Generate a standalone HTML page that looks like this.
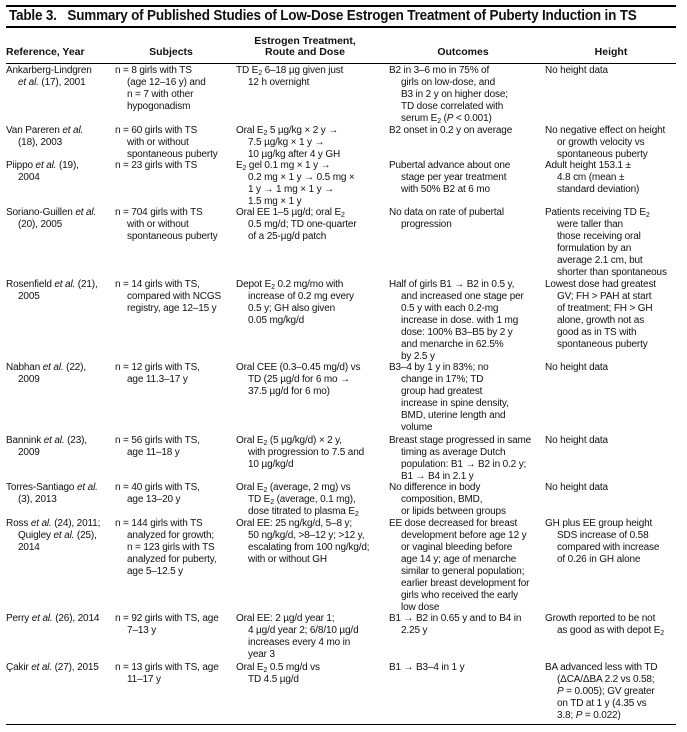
<!DOCTYPE html>
<html><head><meta charset="utf-8"><style>
body{margin:0;width:687px;height:732px;background:#fff;position:relative;overflow:hidden;font-family:"Liberation Sans",sans-serif;color:#111}
.r{position:absolute;left:6px;width:670px;background:#000}
.c{position:absolute;font-size:10px;line-height:12px;white-space:nowrap;padding-left:12px;text-indent:-12px;letter-spacing:-0.15px}
.h{position:absolute;font-size:10.5px;font-weight:bold;line-height:11px;text-align:center;white-space:nowrap}
sub{font-size:7px;vertical-align:-2px;line-height:0}
i{font-style:italic}
</style></head><body>
<div class="r" style="top:5px;height:2px"></div>
<div style="position:absolute;left:9px;top:7px;font-size:14.5px;font-weight:bold;line-height:18px;white-space:nowrap;letter-spacing:-0.2px;transform:scaleX(0.93);transform-origin:0 0">Table 3.&nbsp;&nbsp; Summary of Published Studies of Low-Dose Estrogen Treatment of Puberty Induction in TS</div>
<div class="r" style="top:26px;height:2px"></div>
<div class="h" style="left:6px;top:47px;text-align:left">Reference, Year</div>
<div class="h" style="left:121px;width:100px;top:47px">Subjects</div>
<div class="h" style="left:245px;width:120px;top:36px">Estrogen Treatment,<br>Route and Dose</div>
<div class="h" style="left:413px;width:100px;top:47px">Outcomes</div>
<div class="h" style="left:561px;width:100px;top:47px">Height</div>
<div class="r" style="top:63px;height:1px"></div>

<div class="c" style="left:6px;top:65px">Ankarberg-Lindgren<br><i>et al.</i> (17), 2001</div>
<div class="c" style="left:115px;top:65px">n = 8 girls with TS<br>(age 12–16 y) and<br>n = 7 with other<br>hypogonadism</div>
<div class="c" style="left:236px;top:65px">TD E<sub>2</sub> 6–18 µg given just<br>12 h overnight</div>
<div class="c" style="left:389px;top:65px">B2 in 3–6 mo in 75% of<br>girls on low-dose, and<br>B3 in 2 y on higher dose;<br>TD dose correlated with<br>serum E<sub>2</sub> (<i>P</i> &lt; 0.001)</div>
<div class="c" style="left:545px;top:65px">No height data</div>

<div class="c" style="left:6px;top:125px">Van Pareren <i>et al.</i><br>(18), 2003</div>
<div class="c" style="left:115px;top:125px">n = 60 girls with TS<br>with or without<br>spontaneous puberty</div>
<div class="c" style="left:236px;top:125px">Oral E<sub>2</sub> 5 µg/kg × 2 y →<br>7.5 µg/kg × 1 y →<br>10 µg/kg after 4 y GH</div>
<div class="c" style="left:389px;top:125px">B2 onset in 0.2 y on average</div>
<div class="c" style="left:545px;top:125px">No negative effect on height<br>or growth velocity vs<br>spontaneous puberty</div>

<div class="c" style="left:6px;top:160px">Piippo <i>et al.</i> (19),<br>2004</div>
<div class="c" style="left:115px;top:160px">n = 23 girls with TS</div>
<div class="c" style="left:236px;top:160px">E<sub>2</sub> gel 0.1 mg × 1 y →<br>0.2 mg × 1 y → 0.5 mg ×<br>1 y → 1 mg × 1 y →<br>1.5 mg × 1 y</div>
<div class="c" style="left:389px;top:160px">Pubertal advance about one<br>stage per year treatment<br>with 50% B2 at 6 mo</div>
<div class="c" style="left:545px;top:160px">Adult height 153.1 ±<br>4.8 cm (mean ±<br>standard deviation)</div>

<div class="c" style="left:6px;top:207px">Soriano-Guillen <i>et al.</i><br>(20), 2005</div>
<div class="c" style="left:115px;top:207px">n = 704 girls with TS<br>with or without<br>spontaneous puberty</div>
<div class="c" style="left:236px;top:207px">Oral EE 1–5 µg/d; oral E<sub>2</sub><br>0.5 mg/d; TD one-quarter<br>of a 25-µg/d patch</div>
<div class="c" style="left:389px;top:207px">No data on rate of pubertal<br>progression</div>
<div class="c" style="left:545px;top:207px">Patients receiving TD E<sub>2</sub><br>were taller than<br>those receiving oral<br>formulation by an<br>average 2.1 cm, but<br>shorter than spontaneous</div>

<div class="c" style="left:6px;top:279px">Rosenfield <i>et al.</i> (21),<br>2005</div>
<div class="c" style="left:115px;top:279px">n = 14 girls with TS,<br>compared with NCGS<br>registry, age 12–15 y</div>
<div class="c" style="left:236px;top:279px">Depot E<sub>2</sub> 0.2 mg/mo with<br>increase of 0.2 mg every<br>0.5 y; GH also given<br>0.05 mg/kg/d</div>
<div class="c" style="left:389px;top:279px">Half of girls B1 → B2 in 0.5 y,<br>and increased one stage per<br>0.5 y with each 0.2-mg<br>increase in dose. with 1 mg<br>dose: 100% B3–B5 by 2 y<br>and menarche in 62.5%<br>by 2.5 y</div>
<div class="c" style="left:545px;top:279px">Lowest dose had greatest<br>GV; FH &gt; PAH at start<br>of treatment; FH &gt; GH<br>alone, growth not as<br>good as in TS with<br>spontaneous puberty</div>

<div class="c" style="left:6px;top:362px">Nabhan <i>et al.</i> (22),<br>2009</div>
<div class="c" style="left:115px;top:362px">n = 12 girls with TS,<br>age 11.3–17 y</div>
<div class="c" style="left:236px;top:362px">Oral CEE (0.3–0.45 mg/d) vs<br>TD (25 µg/d for 6 mo →<br>37.5 µg/d for 6 mo)</div>
<div class="c" style="left:389px;top:362px">B3–4 by 1 y in 83%; no<br>change in 17%; TD<br>group had greatest<br>increase in spine density,<br>BMD, uterine length and<br>volume</div>
<div class="c" style="left:545px;top:362px">No height data</div>

<div class="c" style="left:6px;top:435px">Bannink <i>et al.</i> (23),<br>2009</div>
<div class="c" style="left:115px;top:435px">n = 56 girls with TS,<br>age 11–18 y</div>
<div class="c" style="left:236px;top:435px">Oral E<sub>2</sub> (5 µg/kg/d) × 2 y,<br>with progression to 7.5 and<br>10 µg/kg/d</div>
<div class="c" style="left:389px;top:435px">Breast stage progressed in same<br>timing as average Dutch<br>population: B1 → B2 in 0.2 y;<br>B1 → B4 in 2.1 y</div>
<div class="c" style="left:545px;top:435px">No height data</div>

<div class="c" style="left:6px;top:482px">Torres-Santiago <i>et al.</i><br>(3), 2013</div>
<div class="c" style="left:115px;top:482px">n = 40 girls with TS,<br>age 13–20 y</div>
<div class="c" style="left:236px;top:482px">Oral E<sub>2</sub> (average, 2 mg) vs<br>TD E<sub>2</sub> (average, 0.1 mg),<br>dose titrated to plasma E<sub>2</sub></div>
<div class="c" style="left:389px;top:482px">No difference in body<br>composition, BMD,<br>or lipids between groups</div>
<div class="c" style="left:545px;top:482px">No height data</div>

<div class="c" style="left:6px;top:518px">Ross <i>et al.</i> (24), 2011;<br>Quigley <i>et al.</i> (25),<br>2014</div>
<div class="c" style="left:115px;top:518px">n = 144 girls with TS<br>analyzed for growth;<br>n = 123 girls with TS<br>analyzed for puberty,<br>age 5–12.5 y</div>
<div class="c" style="left:236px;top:518px">Oral EE: 25 ng/kg/d, 5–8 y;<br>50 ng/kg/d, &gt;8–12 y; &gt;12 y,<br>escalating from 100 ng/kg/d;<br>with or without GH</div>
<div class="c" style="left:389px;top:518px">EE dose decreased for breast<br>development before age 12 y<br>or vaginal bleeding before<br>age 14 y; age of menarche<br>similar to general population;<br>earlier breast development for<br>girls who received the early<br>low dose</div>
<div class="c" style="left:545px;top:518px">GH plus EE group height<br>SDS increase of 0.58<br>compared with increase<br>of 0.26 in GH alone</div>

<div class="c" style="left:6px;top:613px">Perry <i>et al.</i> (26), 2014</div>
<div class="c" style="left:115px;top:613px">n = 92 girls with TS, age<br>7–13 y</div>
<div class="c" style="left:236px;top:613px">Oral EE: 2 µg/d year 1;<br>4 µg/d year 2; 6/8/10 µg/d<br>increases every 4 mo in<br>year 3</div>
<div class="c" style="left:389px;top:613px">B1 → B2 in 0.65 y and to B4 in<br>2.25 y</div>
<div class="c" style="left:545px;top:613px">Growth reported to be not<br>as good as with depot E<sub>2</sub></div>

<div class="c" style="left:6px;top:662px">Çakir <i>et al.</i> (27), 2015</div>
<div class="c" style="left:115px;top:662px">n = 13 girls with TS, age<br>11–17 y</div>
<div class="c" style="left:236px;top:662px">Oral E<sub>2</sub> 0.5 mg/d vs<br>TD 4.5 µg/d</div>
<div class="c" style="left:389px;top:662px">B1 → B3–4 in 1 y</div>
<div class="c" style="left:545px;top:662px">BA advanced less with TD<br>(ΔCA/ΔBA 2.2 vs 0.58;<br><i>P</i> = 0.005); GV greater<br>on TD at 1 y (4.35 vs<br>3.8; <i>P</i> = 0.022)</div>

<div class="r" style="top:724px;height:1px"></div>
</body></html>
